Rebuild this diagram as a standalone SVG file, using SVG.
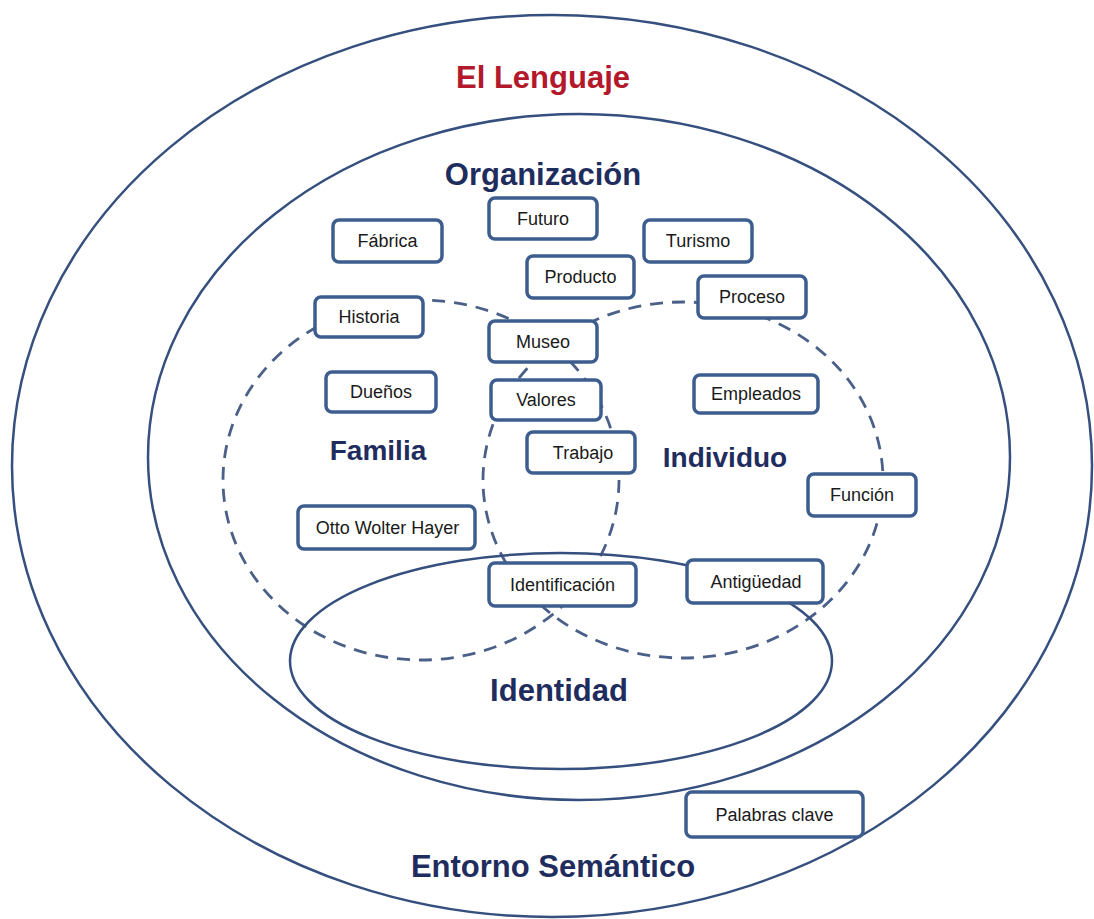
<svg xmlns="http://www.w3.org/2000/svg" width="1094" height="919" viewBox="0 0 1094 919">
<style>
.ring{fill:none;stroke:#354f7e;stroke-width:2.5}
.dash{fill:none;stroke:#4a6088;stroke-width:2.8;stroke-dasharray:13 9}
.box rect{fill:#ffffff;stroke:#3d5d8e;stroke-width:3.5}
.box text{font-family:"Liberation Sans",Arial,sans-serif;font-size:18px;fill:#1a1a1a;text-anchor:middle}
.lbl{font-family:"Liberation Sans",Arial,sans-serif;font-weight:bold;fill:#1f2d5e;text-anchor:middle}
</style>
<rect width="1094" height="919" fill="#ffffff"/>
<g id="connectors">
<ellipse id="lenguaje-ring" class="ring" cx="552" cy="466" rx="540" ry="451"/>
<ellipse id="organizacion-ring" class="ring" cx="579" cy="457" rx="431" ry="343"/>
<ellipse id="familia-ring" class="dash" cx="421" cy="480" rx="198" ry="180"/>
<ellipse id="individuo-ring" class="dash" cx="683" cy="480" rx="200" ry="178"/>
<ellipse id="identidad-ring" class="ring" cx="561" cy="661" rx="271" ry="108"/>
</g>
<g id="labels">
<text class="lbl" x="543" y="88" font-size="31" style="fill:#b3192b">El Lenguaje</text>
<text class="lbl" x="543" y="185" font-size="31">Organización</text>
<text class="lbl" x="378" y="460" font-size="28">Familia</text>
<text class="lbl" x="725" y="467" font-size="28">Individuo</text>
<text class="lbl" x="559" y="701" font-size="31">Identidad</text>
<text class="lbl" x="553" y="877" font-size="31">Entorno Semántico</text>
</g>
<g id="fabrica" class="box"><rect x="333" y="220" width="109" height="42" rx="6"/><text x="387.5" y="247">Fábrica</text></g>
<g id="futuro" class="box"><rect x="489" y="198" width="108" height="41" rx="6"/><text x="543" y="224.5">Futuro</text></g>
<g id="turismo" class="box"><rect x="644" y="220" width="108" height="42" rx="6"/><text x="698" y="247">Turismo</text></g>
<g id="producto" class="box"><rect x="527" y="256" width="107" height="42" rx="6"/><text x="580.5" y="283">Producto</text></g>
<g id="proceso" class="box"><rect x="698" y="276" width="108" height="42" rx="6"/><text x="752" y="303">Proceso</text></g>
<g id="historia" class="box"><rect x="315" y="297" width="108" height="40" rx="6"/><text x="369" y="323">Historia</text></g>
<g id="museo" class="box"><rect x="489" y="321" width="108" height="41" rx="6"/><text x="543" y="347.5">Museo</text></g>
<g id="duenos" class="box"><rect x="326" y="372" width="110" height="40" rx="6"/><text x="381" y="398">Dueños</text></g>
<g id="valores" class="box"><rect x="491" y="380" width="110" height="40" rx="6"/><text x="546" y="406">Valores</text></g>
<g id="empleados" class="box"><rect x="694" y="375" width="124" height="38" rx="6"/><text x="756" y="400">Empleados</text></g>
<g id="trabajo" class="box"><rect x="527" y="432" width="108" height="41" rx="6"/><text x="583" y="458.5">Trabajo</text></g>
<g id="funcion" class="box"><rect x="808" y="474" width="108" height="42" rx="6"/><text x="862" y="501">Función</text></g>
<g id="otto" class="box"><rect x="298" y="506" width="177" height="43" rx="6"/><text x="387.5" y="533.5">Otto Wolter Hayer</text></g>
<g id="identificacion" class="box"><rect x="489" y="563" width="147" height="43" rx="6"/><text x="562.5" y="590.5">Identificación</text></g>
<g id="antiguedad" class="box"><rect x="687" y="560" width="136" height="43" rx="6"/><text x="756" y="587.5">Antigüedad</text></g>
<g id="palabras" class="box"><rect x="686" y="792" width="177" height="45" rx="6"/><text x="774.5" y="820.5">Palabras clave</text></g>
</svg>
